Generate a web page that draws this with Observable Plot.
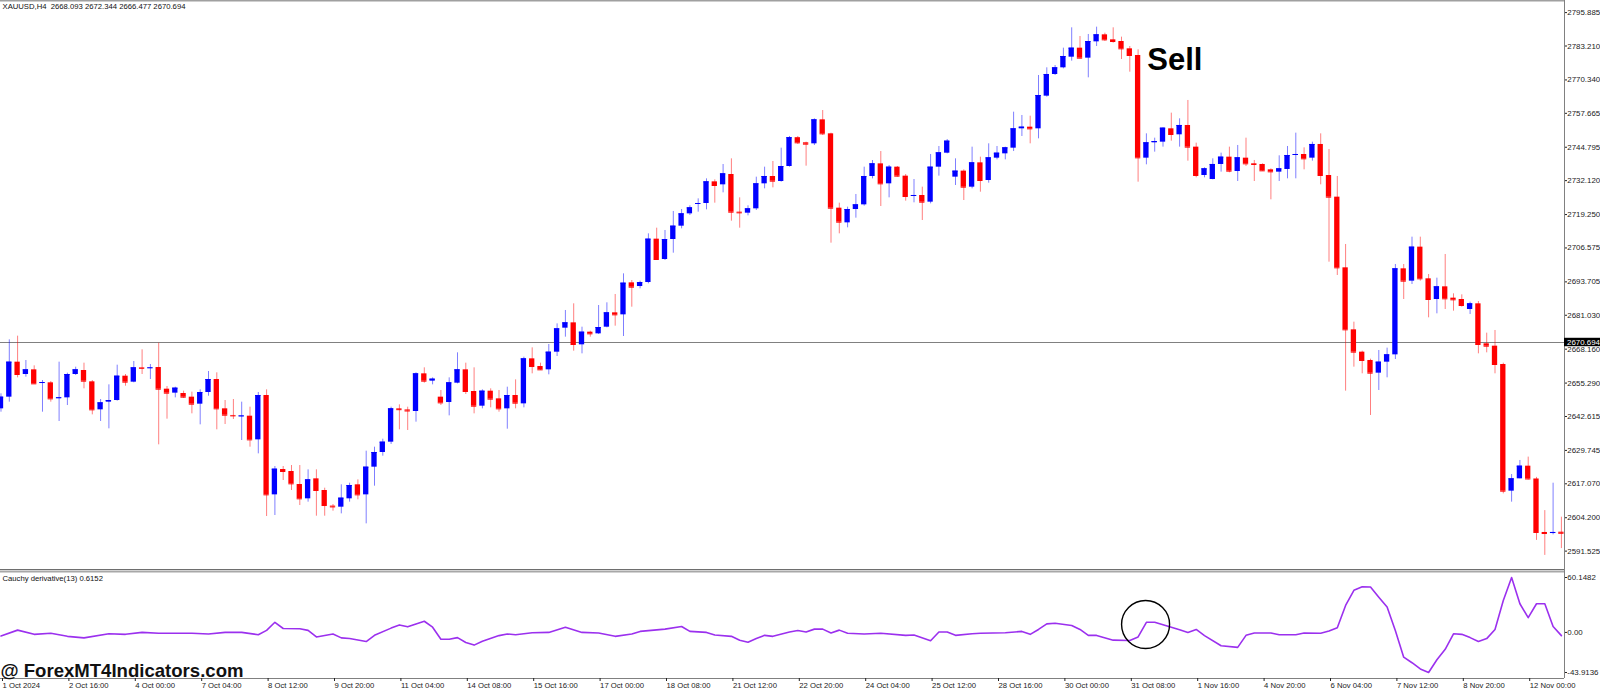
<!DOCTYPE html>
<html><head><meta charset="utf-8">
<script src="https://cdn.jsdelivr.net/npm/d3@7"></script>
<script src="https://cdn.jsdelivr.net/npm/@observablehq/plot@0.6"></script>
<style>
html,body{margin:0;padding:0;background:#fff;}
#chart{position:relative;width:1600px;height:690px;overflow:hidden;background:#fff;}
#chart svg{display:block;position:absolute;left:0;max-width:none;}
</style></head><body><div id="chart"></div>
<script>
// ---------- data ----------
const symbolHeader = "XAUUSD,H4  2668.093 2672.344 2666.477 2670.694";
const indicatorTitle = "Cauchy derivative(13) 0.6152";
const watermark = "@ ForexMT4Indicators.com";
const bidPrice = 2670.694;

const openP = [2645.52,2649.95,2663.23,2658.55,2660.32,2655.20,2655.39,2649.45,2649.69,2658.55,
2660.07,2655.77,2645.14,2648.05,2648.68,2657.91,2655.64,2661.08,2660.90,2661.20,
2652.98,2651.47,2651.34,2649.95,2647.29,2651.72,2656.65,2645.52,2643.00,2642.60,
2642.73,2633.75,2650.58,2612.88,2622.49,2621.74,2616.80,2611.37,2618.95,2614.53,
2608.60,2608.20,2611.37,2616.68,2612.88,2623.38,2628.95,2632.87,2645.50,2645.10,
2644.51,2658.80,2656.02,2649.95,2647.92,2655.26,2660.32,2652.10,2646.53,2652.22,
2649.31,2645.52,2650.58,2647.41,2664.49,2661.58,2660.32,2667.02,2676.13,2678.15,
2669.81,2674.61,2673.98,2676.51,2681.95,2681.19,2693.33,2691.94,2693.46,2709.91,
2702.19,2709.78,2714.84,2719.52,2723.19,2723.44,2731.66,2730.53,2734.45,2720.15,
2719.77,2721.42,2730.91,2733.69,2731.79,2737.48,2748.42,2746.47,2746.09,2755.19,
2749.88,2721.67,2716.10,2721.16,2722.93,2733.69,2738.49,2730.91,2737.23,2733.82,
2726.10,2726.48,2723.95,2737.23,2742.54,2733.44,2735.72,2729.64,2738.87,2732.17,
2740.65,2742.29,2744.44,2751.78,2752.41,2751.78,2764.18,2772.40,2774.93,2778.97,
2782.39,2778.60,2784.79,2787.45,2785.55,2784.92,2782.14,2779.61,2740.65,2746.47,
2746.72,2751.78,2749.51,2753.05,2744.83,2734.07,2732.55,2738.25,2741.03,2735.59,
2740.65,2738.50,2738.25,2736.22,2735.34,2736.35,2741.66,2742.04,2740.65,2745.84,
2734.07,2725.85,2699.03,2675.50,2667.03,2663.87,2659.06,2663.23,2666.01,2698.65,
2693.97,2706.88,2694.86,2687.01,2691.82,2687.52,2687.01,2683.22,2685.37,2670.19,
2669.30,2662.35,2614.28,2618.96,2623.76,2618.90,2598.60,2598.20,2598.70];
const highP = [2651.21,2671.70,2673.10,2663.86,2661.84,2656.27,2655.89,2663.23,2659.05,2661.33,
2662.85,2656.27,2649.06,2654.63,2662.09,2658.55,2663.48,2667.91,2662.34,2670.44,
2654.00,2653.74,2652.22,2651.85,2652.73,2659.69,2659.18,2648.68,2649.06,2648.05,
2646.15,2651.72,2652.73,2623.63,2623.63,2624.01,2624.01,2622.37,2622.37,2615.41,
2609.21,2616.68,2617.31,2618.57,2629.45,2630.97,2634.00,2646.15,2647.03,2646.15,
2659.18,2661.08,2657.28,2652.48,2657.28,2666.77,2662.85,2661.08,2652.73,2653.11,
2652.48,2653.74,2656.52,2665.13,2668.67,2662.85,2669.93,2677.77,2682.84,2685.37,
2676.51,2674.99,2684.73,2685.75,2688.91,2696.75,2694.22,2693.97,2711.93,2714.08,
2713.20,2720.41,2721.16,2722.56,2725.21,2732.80,2732.42,2738.24,2740.39,2725.59,
2722.56,2733.44,2737.23,2739.38,2744.44,2748.87,2748.87,2746.72,2755.57,2758.73,
2750.13,2723.57,2722.05,2726.86,2737.23,2739.76,2743.17,2737.87,2737.48,2734.45,
2732.55,2729.64,2742.04,2745.07,2747.73,2740.39,2736.22,2744.82,2741.03,2746.09,
2745.07,2744.82,2758.10,2756.84,2756.58,2772.02,2774.93,2775.81,2782.39,2790.11,
2786.82,2787.58,2790.36,2788.08,2790.11,2786.57,2783.02,2781.76,2749.88,2748.24,
2752.16,2757.73,2755.58,2762.54,2746.34,2736.98,2740.40,2742.55,2744.83,2745.46,
2748.24,2739.77,2738.50,2736.60,2741.54,2745.08,2750.14,2744.57,2746.72,2749.88,
2743.94,2733.69,2707.89,2678.41,2667.41,2664.37,2667.66,2668.55,2700.30,2700.30,
2710.67,2710.67,2696.50,2695.11,2704.09,2689.16,2688.78,2686.00,2686.25,2674.24,
2675.25,2662.85,2620.60,2625.92,2627.20,2619.50,2606.90,2617.30,2604.40];
const lowP = [2644.25,2648.05,2657.28,2657.54,2654.90,2644.25,2648.05,2640.71,2646.78,2658.17,
2653.11,2643.24,2640.71,2637.93,2648.43,2654.12,2655.39,2658.55,2656.65,2631.86,
2641.60,2649.69,2649.44,2643.62,2639.45,2650.32,2637.55,2639.57,2641.47,2633.50,
2630.97,2628.44,2604.66,2605.04,2618.32,2614.53,2608.83,2610.10,2604.78,2604.78,
2606.68,2605.67,2610.10,2610.98,2601.87,2616.17,2627.55,2632.00,2637.55,2637.30,
2640.46,2655.26,2654.63,2646.78,2642.86,2655.01,2650.96,2643.62,2645.52,2645.90,
2644.25,2637.80,2645.52,2645.90,2658.80,2660.07,2658.42,2665.38,2672.72,2667.40,
2666.39,2672.72,2673.73,2676.26,2676.89,2672.97,2684.10,2691.06,2692.96,2701.81,
2701.81,2704.59,2713.83,2718.89,2720.15,2721.04,2723.57,2727.49,2716.74,2714.08,
2718.76,2720.79,2729.01,2729.39,2731.54,2737.23,2745.83,2737.61,2745.45,2749.25,
2708.39,2711.93,2714.21,2717.88,2722.43,2732.80,2722.30,2725.59,2733.44,2724.33,
2723.70,2716.99,2723.31,2733.82,2742.29,2730.27,2724.58,2729.01,2727.74,2731.16,
2740.01,2740.01,2743.17,2748.87,2746.09,2747.98,2763.80,2772.02,2774.55,2777.46,
2778.30,2771.13,2783.02,2784.92,2784.29,2778.09,2773.28,2731.54,2738.12,2742.93,
2744.83,2747.10,2744.83,2739.51,2733.19,2733.19,2732.43,2735.34,2735.09,2731.79,
2737.49,2731.79,2735.59,2724.84,2731.79,2732.81,2732.81,2736.22,2739.51,2730.53,
2701.18,2696.12,2652.23,2661.34,2658.81,2643.00,2652.48,2657.29,2664.24,2687.01,
2692.71,2693.97,2680.06,2681.58,2683.22,2682.59,2684.11,2681.32,2666.39,2666.77,
2658.81,2613.26,2610.10,2618.96,2618.50,2595.60,2589.90,2597.70,2592.50];
const closeP = [2649.95,2663.23,2658.55,2660.32,2655.01,2655.50,2649.31,2649.70,2658.55,2660.32,
2656.02,2645.14,2647.79,2648.68,2657.91,2655.64,2661.08,2660.90,2661.08,2652.98,
2651.47,2653.36,2649.95,2647.29,2651.72,2656.65,2645.52,2643.11,2642.85,2642.80,
2633.75,2650.58,2612.88,2622.62,2621.74,2617.06,2611.37,2618.57,2614.53,2608.83,
2608.30,2611.62,2616.42,2612.88,2623.38,2628.95,2632.87,2645.52,2645.20,2644.70,
2658.80,2656.02,2656.78,2647.79,2655.39,2660.32,2652.10,2646.53,2652.22,2649.19,
2645.52,2650.58,2647.67,2664.49,2661.58,2660.32,2667.02,2675.88,2678.15,2669.93,
2674.61,2673.98,2676.38,2681.95,2681.19,2693.21,2691.69,2693.46,2709.91,2702.19,
2709.78,2714.84,2719.52,2721.80,2723.44,2731.66,2730.27,2734.70,2720.15,2719.90,
2721.42,2730.91,2733.69,2731.92,2737.48,2748.42,2746.47,2745.96,2755.19,2749.88,
2721.67,2716.36,2721.16,2722.93,2733.69,2738.49,2730.91,2737.23,2733.82,2726.10,
2726.48,2723.95,2737.23,2742.67,2747.10,2735.72,2729.64,2738.87,2732.17,2740.77,
2742.54,2744.57,2751.78,2752.41,2751.78,2764.43,2772.40,2774.93,2779.23,2782.39,
2778.60,2784.92,2787.45,2785.55,2784.92,2782.14,2779.61,2740.77,2746.47,2746.97,
2752.03,2749.63,2753.05,2744.83,2734.07,2736.60,2738.25,2741.03,2735.72,2740.78,
2738.50,2738.25,2735.84,2735.46,2736.60,2741.66,2742.04,2740.40,2745.84,2734.07,
2725.85,2699.03,2675.50,2667.03,2663.87,2659.06,2663.23,2666.01,2698.65,2693.97,
2706.88,2694.86,2687.01,2691.82,2687.27,2686.89,2684.74,2685.37,2669.94,2669.30,
2662.35,2614.28,2618.96,2623.76,2618.90,2598.60,2598.20,2598.60,2598.30];

const priceTicks = [2795.885,2783.210,2770.340,2757.665,2744.795,2732.120,2719.250,2706.575,
  2693.705,2681.030,2668.160,2655.290,2642.615,2629.745,2617.070,2604.200,2591.525];

const xTickBars = [0,8,16,24,32,40,48,56,64,72,80,88,96,104,112,120,128,136,144,152,160,168,176,184];
const xTickLabels = ["1 Oct 2024","2 Oct 16:00","4 Oct 00:00","7 Oct 04:00","8 Oct 12:00","9 Oct 20:00",
  "11 Oct 04:00","14 Oct 08:00","15 Oct 16:00","17 Oct 00:00","18 Oct 08:00","21 Oct 12:00",
  "22 Oct 20:00","24 Oct 04:00","25 Oct 12:00","28 Oct 16:00","30 Oct 00:00","31 Oct 08:00",
  "1 Nov 16:00","4 Nov 20:00","6 Nov 04:00","7 Nov 12:00","8 Nov 20:00","12 Nov 00:00"];

const cdBar = [0,2,4,6,8,10,13,15,17,19,21,23,25,27,29,31,32,33,34,36,
  37,38,40,41,42,44,45,47,48,49,50,51,52,53,54,55,56,57,58,60,
  61,62,64,66,68,70,72,74,76,77,80,82,83,85,86,88,89,90,91,92,
  93,95,96,97,98,99,100,101,102,104,106,109,110,112,113,114,115,117,118,121,
  123,124,125,126,127,129,130,131,132,134,136,137,138,139,141,142,143,144,145,147,
  149,150,151,153,154,156,157,159,160,161,162,163,164,165,166,167,168,169,170,171,
  172,173,174,175,176,177,178,179,180,181,182,183,184,185,186,187,188];
const cdValue = [-3.9,2.5,-2.1,-1.0,-4.3,-6.0,-1.4,-2.1,0.0,-1.0,-1.0,-1.0,-1.8,0.0,0.0,-2.5,2.2,11.1,4.3,4.0,
  2.2,-5.0,-1.8,-6.0,-6.75,-10.0,-3.2,4.7,8.2,6.1,9.3,12.2,5.7,-7.5,-7.5,-5.7,-11.0,-13.9,-9.6,-3.5,
  -1.75,-2.5,-0.3,0.0,5.7,0.0,-0.7,-4.3,-1.75,1.1,3.6,6.5,1.1,0.0,-2.8,-4.3,-8.5,-10.7,-6.75,-3.2,
  -4.3,0.4,2.0,0.4,3.6,3.6,-0.7,2.5,-1.0,-1.75,-1.0,-3.2,-2.8,-9.2,0.4,0.4,-3.2,-1.4,-1.0,-0.3,
  1.1,-2.1,3.25,9.3,10.0,7.5,3.25,-3.2,-3.3,-8.5,-8.9,-5.0,11.1,11.1,5.7,2.9,0.0,3.25,-3.5,-14.6,
  -16.4,-3.2,-0.7,-0.7,-2.5,-2.5,-0.7,-1.0,1.5,5.2,29.5,46.1,50.0,49.7,38.6,27.9,1.8,-27.1,-33.2,-40.0,
  -43.9136,-30.0,-18.5,-1.5,-2.1,-5.7,-10.0,-6.8,3.25,35.0,60.1482,31.4,16.1,31.4,31.4,6.5,-3.5];
const cdTicks = [60.1482, 0, -43.9136];
const cdTickLabels = ["60.1482", "0.00", "-43.9136"];

const sellNote = [{bar: 138.1, price: 2778, text: "Sell"}];
const circleNote = [{bar: 137.9, value: 8.7}];

// ---------- layout ----------
const W = 1600, AXIS_W = 36;
const xDomain = [-0.0602, 188.373];
const yDomain = [2584.17, 2800.48];
const cdDomain = [-50.486, 67.816];
const FONT = "'Liberation Sans', Arial, sans-serif";
const BLUE = "#0000ff", RED = "#ff0000", GRID = "#808080";
const AXFS = 7.9;

const bars = openP.map((o, i) => ({i, o, h: highP[i], l: lowP[i], c: closeP[i], col: closeP[i] >= o ? BLUE : RED}));
const cdPoints = cdBar.map((b, i) => ({bar: b, v: cdValue[i]}));

const main = Plot.plot({
  width: W, height: 570, marginTop: 0, marginBottom: 0, marginLeft: 0, marginRight: AXIS_W,
  style: {fontFamily: FONT, background: "transparent", overflow: "visible"},
  color: {type: "identity"},
  x: {domain: xDomain, axis: null, label: null},
  y: {domain: yDomain, label: null},
  marks: [
    Plot.ruleY([yDomain[1]], {stroke: "#a0a0a0", strokeWidth: 2}),
    Plot.ruleY([bidPrice], {stroke: GRID, strokeWidth: 1}),
    Plot.ruleX(bars, {x: "i", y1: "l", y2: "h", stroke: "col", strokeOpacity: 0.5, strokeWidth: 1}),
    Plot.rect(bars, {x1: d => d.i - 0.32, x2: d => d.i + 0.32,
      y1: d => Math.min(d.o, d.c), y2: d => Math.max(d.o, d.c), fill: "col"}),
    Plot.ruleY(bars, {y: "c", x1: d => d.i - 0.32, x2: d => d.i + 0.32, stroke: "col", strokeWidth: 1}),
    Plot.ruleX([xDomain[1]], {stroke: GRID, strokeWidth: 1}),
    Plot.ruleY([yDomain[0]], {stroke: "#6e6e6e", strokeWidth: 1, dy: -1}),
    Plot.axisY(priceTicks, {anchor: "right", label: null, tickSize: 2, tickPadding: 0.8, fontSize: AXFS,
      tickFormat: d => d.toFixed(3), color: "#222"}),
    Plot.rect([bidPrice], {x1: xDomain[1], x2: xDomain[1], insetRight: -AXIS_W,
      y1: d => d - 1.6, y2: d => d + 1.6, fill: "#000"}),
    Plot.text([bidPrice], {x: xDomain[1], y: d => d, text: d => d.toFixed(3), dx: 2.5,
      textAnchor: "start", fill: "#fff", fontSize: AXFS}),
    Plot.text([symbolHeader], {text: d => d, frameAnchor: "top-left", dx: 2, dy: 3,
      lineAnchor: "top", textAnchor: "start", fontSize: 7.7, fill: "#111"}),
    Plot.text(sellNote, {x: "bar", y: "price", text: "text", textAnchor: "start",
      fontSize: 31, fontWeight: "bold", fill: "#000", fontFamily: FONT})
  ]
});

const ind = Plot.plot({
  width: W, height: 120, marginTop: 0, marginBottom: 12, marginLeft: 0, marginRight: AXIS_W,
  style: {fontFamily: FONT, background: "transparent", overflow: "visible"},
  x: {domain: xDomain, label: null},
  y: {domain: cdDomain, label: null},
  marks: [
    Plot.ruleY([cdDomain[1]], {stroke: "#a8a8a8", strokeWidth: 2, dy: 1}),
    Plot.line(cdPoints, {x: "bar", y: "v", stroke: "#9b30ee", strokeWidth: 1.6}),
    Plot.dot(circleNote, {x: "bar", y: "value", r: 24, stroke: "#000", strokeWidth: 1.4, fill: "none"}),
    Plot.ruleX([xDomain[1]], {stroke: GRID, strokeWidth: 1}),
    Plot.ruleY([cdDomain[0]], {stroke: GRID, strokeWidth: 1}),
    Plot.axisY(cdTicks, {anchor: "right", label: null, tickSize: 2, tickPadding: 0.8, fontSize: AXFS,
      tickFormat: d => cdTickLabels[cdTicks.indexOf(d)], color: "#222"}),
    Plot.axisX(xTickBars, {anchor: "bottom", label: null, tickSize: 3, tickPadding: 1, fontSize: 7.7,
      textAnchor: "start", dx: 1.5, color: "#222",
      tickFormat: d => xTickLabels[xTickBars.indexOf(d)]}),
    Plot.text([indicatorTitle], {text: d => d, frameAnchor: "top-left", dx: 2, dy: 5,
      lineAnchor: "top", textAnchor: "start", fontSize: 7.7, fill: "#111"}),
    Plot.text([watermark], {text: d => d, frameAnchor: "bottom-left", dx: 0, dy: -1.5,
      lineAnchor: "bottom", textAnchor: "start", fontSize: 18.5, fontWeight: "bold",
      fill: "#111", fontFamily: FONT})
  ]
});

main.style.top = "0px";
ind.style.top = "570px";
const host = document.getElementById("chart");
host.appendChild(main);
host.appendChild(ind);

d3.select(ind).selectAll("text")
  .filter(function () { return this.textContent === watermark; })
  .attr("textLength", 243).attr("lengthAdjust", "spacingAndGlyphs");
</script>
</body></html>
